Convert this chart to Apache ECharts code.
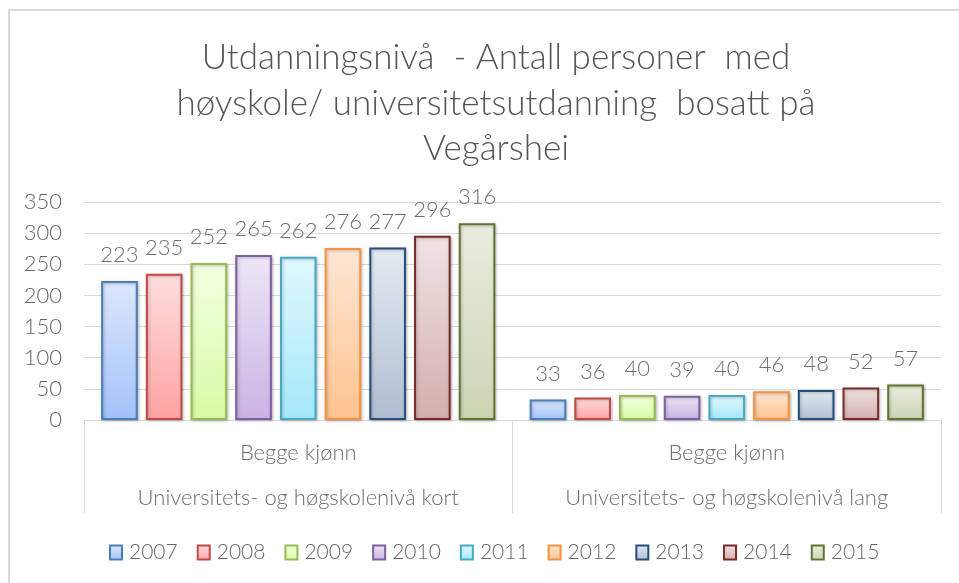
<!DOCTYPE html>
<html>
<head>
<meta charset="utf-8">
<script src="https://cdn.jsdelivr.net/npm/echarts@6/dist/echarts.min.js"></script>
<style>
  html, body { margin: 0; padding: 0; background: #fff; }
  #chart { width: 959px; height: 583px; }
</style>
</head>
<body>
<div id="chart"></div>
<script>
// data
var categories = ['Begge kjønn\nUniversitets- og høgskolenivå kort', 'Begge kjønn\nUniversitets- og høgskolenivå lang'];
var years = ['2007', '2008', '2009', '2010', '2011', '2012', '2013', '2014', '2015'];
var values2007 = [223, 33];
var values2008 = [235, 36];
var values2009 = [252, 40];
var values2010 = [265, 39];
var values2011 = [262, 40];
var values2012 = [276, 46];
var values2013 = [277, 48];
var values2014 = [296, 52];
var values2015 = [316, 57];
var allValues = [values2007, values2008, values2009, values2010, values2011, values2012, values2013, values2014, values2015];
var yTicks = [0, 50, 100, 150, 200, 250, 300, 350];

// border, top fill, bottom fill
var palette = [
  ['#4a7ebb', '#dce7fb', '#a3c2fa'],
  ['#be4b48', '#ffdede', '#ffa2a2'],
  ['#98b954', '#f3ffe0', '#d8fca5'],
  ['#7d60a0', '#ede6f6', '#c9b3e4'],
  ['#46aac5', '#e1f8fd', '#a4e8fa'],
  ['#f69240', '#ffe7d4', '#fec28f'],
  ['#254d7d', '#e5eaf1', '#b0bdd1'],
  ['#772c2a', '#f0e3e3', '#d3aeae'],
  ['#5f7530', '#e9eddf', '#cad5b3']
];

var FONT = 'Lato';
var WEIGHT = 300;
var myChart = echarts.init(document.getElementById('chart'));

var series = [];
for (var i = 0; i < years.length; i++) {
  var c = palette[i];
  series.push({
    name: years[i],
    type: 'bar',
    data: allValues[i],
    barGap: '22%',
    barCategoryGap: '8%',
    itemStyle: {
      color: new echarts.graphic.LinearGradient(0, 0, 0, 1, [
        { offset: 0, color: c[1] },
        { offset: 1, color: c[2] }
      ]),
      borderColor: c[0],
      borderWidth: 2,
      shadowBlur: 3,
      shadowColor: 'rgba(0,0,0,0.25)',
      shadowOffsetX: 1,
      shadowOffsetY: 1
    },
    label: {
      show: true,
      position: 'top',
      distance: 15,
      color: '#6e6e6e',
      fontFamily: FONT,
      fontWeight: WEIGHT,
      fontSize: 22
    }
  });
}

var option = {
  animation: false,
  backgroundColor: '#fff',
  title: {
    text: 'Utdanningsnivå  - Antall personer  med\nhøyskole/ universitetsutdanning  bosatt på\nVegårshei',
    left: 491,
    textAlign: 'center',
    top: 30,
    textStyle: {
      fontFamily: FONT,
      fontSize: 35,
      fontWeight: WEIGHT,
      color: '#555',
      lineHeight: 45.5
    }
  },
  legend: {
    data: years,
    top: 537,
    left: 104,
    itemWidth: 12,
    itemHeight: 14,
    itemGap: 19,
    icon: 'rect',
    textStyle: {
      fontFamily: FONT,
      fontWeight: WEIGHT,
      fontSize: 21,
      color: '#666',
      padding: [0, 0, 0, 2]
    }
  },
  grid: {
    left: 84,
    right: 18,
    top: 202,
    bottom: 163
  },
  xAxis: {
    type: 'category',
    data: categories,
    axisLine: { lineStyle: { color: '#d9d9d9', width: 1 } },
    axisTick: { show: true, length: 93, lineStyle: { color: '#d9d9d9' } },
    axisLabel: {
      margin: 10,
      fontFamily: FONT,
      fontWeight: WEIGHT,
      fontSize: 22,
      color: '#6e6e6e',
      lineHeight: 45
    }
  },
  yAxis: {
    type: 'value',
    min: yTicks[0],
    max: yTicks[yTicks.length - 1],
    interval: 50,
    axisLine: { show: false },
    axisTick: { show: false },
    splitLine: { lineStyle: { color: '#d9d9d9' } },
    axisLabel: {
      margin: 22,
      fontFamily: FONT,
      fontWeight: WEIGHT,
      fontSize: 22,
      color: '#666'
    }
  },
  graphic: [
    {
      type: 'polyline',
      shape: { points: [[9, 583], [9, 10], [959, 10]] },
      style: { stroke: '#d9d9d9', lineWidth: 2, fill: null },
      silent: true
    }
  ],
  series: series
};

myChart.setOption(option);
</script>
</body>
</html>
